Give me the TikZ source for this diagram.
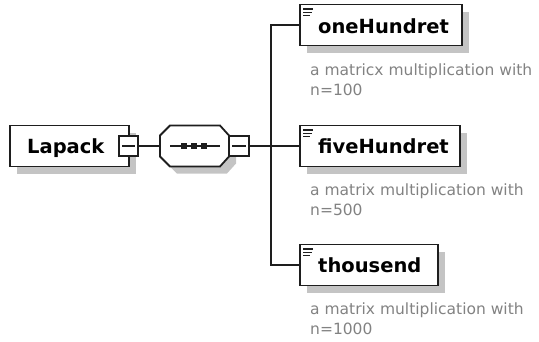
\documentclass[tikz,border=0pt]{standalone}
\usepackage{fontspec}
\setmainfont{DejaVu Sans}
\usetikzlibrary{shadows}
\definecolor{edge}{HTML}{1E1E1E}
\definecolor{shadowgray}{HTML}{C4C4C4}
\definecolor{notegray}{HTML}{828282}
\tikzset{
  boxshadow/.style={drop shadow={shadow xshift=7pt,shadow yshift=-7pt,opacity=1,fill=shadowgray}},
  elembox/.style={draw=edge,line width=1.8pt,fill=white,boxshadow,inner sep=0pt,outer sep=0pt,minimum height=41pt},
  seqframe/.style={inner sep=0pt,outer sep=0pt,minimum width=69pt,minimum height=41pt},
  octagon/.style={draw=edge,line width=1.8pt,fill=white,boxshadow},
  minusbox/.style={draw=edge,line width=1.5pt,fill=white,inner sep=0pt,outer sep=0pt,minimum width=19pt,minimum height=20pt,
    path picture={\draw[edge,line width=1.4pt] ([xshift=3pt]path picture bounding box.west) -- ([xshift=-3pt]path picture bounding box.east);}},
  wire/.style={draw=edge,line width=1.8pt},
  elemname/.style={anchor=base west,inner sep=0pt,font=\fontsize{19.5pt}{22pt}\selectfont\bfseries,text=black},
  note/.style={anchor=base west,inner sep=0pt,align=left,font=\fontsize{15.5pt}{20pt}\selectfont,text=notegray},
  seqdot/.style={fill=edge,inner sep=0pt,minimum size=6pt},
  docicon/.style={draw=edge,line width=1.4pt}
}
\begin{document}
\begin{tikzpicture}[x=1pt,y=-1pt]
\useasboundingbox (0,0) rectangle (539,341);

% root element with its collapse box
\node[elembox,minimum width=119pt] (lapack) at (69.5,146) {};
\node[elemname] (lapacktxt) at (27,153) {Lapack};
\node[minusbox] (lapackminus) at (128.5,146) {};

% sequence compositor: octagon outline around its frame
\node[seqframe] (seq) at (194.5,146) {};
\path[octagon] ([yshift=-10pt]seq.north west) -- ([xshift=10pt]seq.north west)
  -- ([xshift=-9pt]seq.north east) -- ([yshift=-10pt]seq.north east)
  -- ([yshift=10pt]seq.south east) -- ([xshift=-9pt]seq.south east)
  -- ([xshift=10pt]seq.south west) -- ([yshift=10pt]seq.south west) -- cycle;
\node[minusbox,minimum width=20pt] (seqminus) at (239,146) {};
\draw[wire] ([xshift=10pt]seq.west) -- ([xshift=-9pt]seq.east);
\node[seqdot] (d1) at (184,146) {};
\node[seqdot] (d2) at (194,146) {};
\node[seqdot] (d3) at (204,146) {};

% child elements
\node[elembox,minimum width=162pt] (one) at (381,25) {};
\node[elembox,minimum width=160pt] (five) at (380,146) {};
\node[elembox,minimum width=138pt] (three) at (369,265) {};
\node[elemname] (onetxt) at (318,33) {oneHundret};
\node[elemname] (fivetxt) at (318,153.5) {fiveHundret};
\node[elemname] (threetxt) at (318,272.5) {thousend};

% documentation markers in the child boxes
\foreach \b in {one,five,three}{
  \draw[docicon] ([xshift=3pt,yshift=-4.5pt]\b.north west) -- ++(10pt,0);
  \draw[docicon] ([xshift=3pt,yshift=-7.8pt]\b.north west) -- ++(9pt,0);
  \draw[docicon] ([xshift=3pt,yshift=-11.1pt]\b.north west) -- ++(7pt,0);
}

% annotations (anchored on the baseline of their last line)
\node[note] (onenote) at (310,95) {a matricx multiplication with\\n=100};
\node[note] (fivenote) at (310,215) {a matrix multiplication with\\n=500};
\node[note] (threenote) at (310,334) {a matrix multiplication with\\n=1000};

% connectors
\coordinate (hub) at (271,146);
\draw[wire] (lapackminus.east) -- (seq.west);
\draw[wire] (seqminus.east) -- (five.west);
\draw[wire] (one.west) -- (one.west -| hub) -- (three.west -| hub) -- (three.west);
\end{tikzpicture}
\end{document}
